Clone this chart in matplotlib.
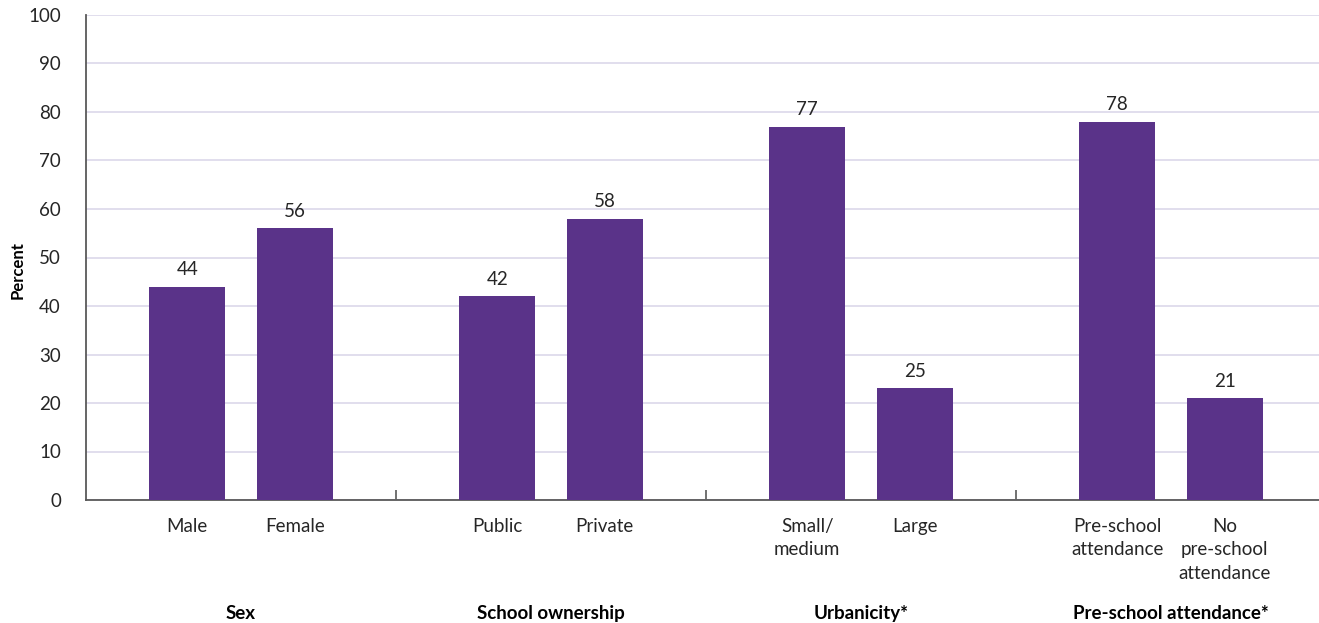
import matplotlib
matplotlib.use("Agg")
import matplotlib.pyplot as plt
import matplotlib.transforms as mtransforms
import numpy as np

# ----------------------------------------------------------------------------
# Dados
# ----------------------------------------------------------------------------
grupos = ["Sex", "School ownership", "Urbanicity*", "Pre-school attendance*"]
categorias = [
    "Male", "Female",
    "Public", "Private",
    "Small/\nmedium", "Large",
    "Pre-school\nattendance", "No\npre-school\nattendance",
]
valores = [44, 56, 42, 58, 77, 23, 78, 21]
rotulos = ["44", "56", "42", "58", "77", "25", "78", "21"]

COR_BARRA = "#5a3389"
COR_GRADE = "#dcd8ea"
COR_EIXO = "#595959"
COR_TEXTO = "#262626"
FONTE = 13.5

plt.rcParams["font.family"] = ["Lato", "DejaVu Sans"]

fig = plt.figure(figsize=(13.19, 6.23), dpi=100)
ax = fig.add_axes([86 / 1319, 123 / 623, 1 - 86 / 1319, 485 / 623])

# posicoes: 3 slots por grupo, barras em torno do centro do grupo
n_grupos = len(grupos)
x = []
for g in range(n_grupos):
    centro = 3 * g + 1.5
    x += [centro - 0.52, centro + 0.52]
x = np.array(x)

ax.bar(x, valores, width=0.735, color=COR_BARRA, zorder=3)

for xi, v, r in zip(x, valores, rotulos):
    ax.annotate(r, (xi, v), xytext=(0, 6), textcoords="offset points",
                ha="center", va="bottom", fontsize=FONTE, color=COR_TEXTO)

ax.set_ylim(0, 100)
ax.set_yticks(np.arange(0, 101, 10))
ax.set_xlim(0, (1319 - 86) / (1240 / 12))

ax.grid(axis="y", color=COR_GRADE, linewidth=1.2, zorder=0)
ax.set_axisbelow(True)

for side in ("top", "right"):
    ax.spines[side].set_visible(False)
for side in ("left", "bottom"):
    ax.spines[side].set_color(COR_EIXO)
    ax.spines[side].set_linewidth(1.3)

ax.tick_params(axis="y", length=0, pad=18, labelsize=FONTE, labelcolor=COR_TEXTO)

# rotulos das categorias
ax.set_xticks(x)
ax.set_xticklabels(categorias, fontsize=FONTE, color=COR_TEXTO, linespacing=1.45)
ax.tick_params(axis="x", length=0, pad=13)

# marcas divisorias entre grupos
divisorias = [3 * g for g in range(1, n_grupos)]
ax.set_xticks(divisorias, minor=True)
ax.tick_params(axis="x", which="minor", direction="in", length=7,
               width=1.2, color=COR_EIXO)

trans = mtransforms.blended_transform_factory(ax.transData, ax.transAxes)
for g, nome in enumerate(grupos):
    ax.text(3 * g + 1.5, -0.233, nome, transform=trans, ha="center",
            va="center", fontsize=FONTE, fontweight="bold", color="black")

fig.text(18 / 1319, 1 - 270 / 623, "Percent", rotation=90, ha="center",
         va="center", fontsize=12, fontweight="bold", color="black")

fig.savefig("out.png", dpi=100)
